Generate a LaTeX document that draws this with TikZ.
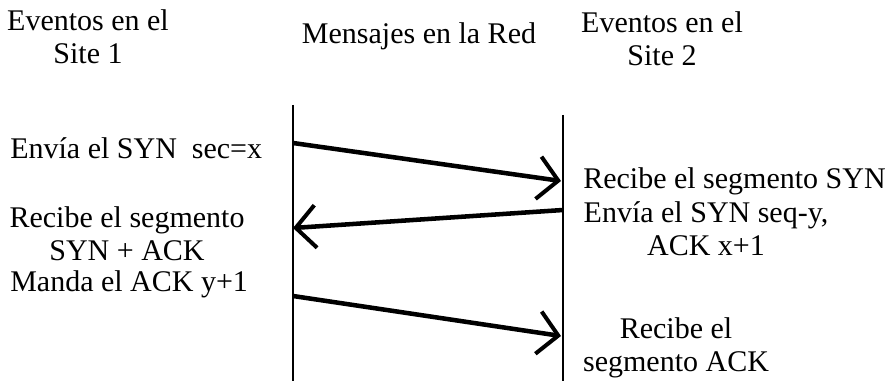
\documentclass[tikz,border=0pt]{standalone}
\usepackage{fontspec}
\setmainfont{Liberation Serif}
\usepackage{tikz}
\usetikzlibrary{arrows.meta}

\tikzset{
  txt/.style = {inner sep=0pt, font=\fontsize{22.5}{25}\selectfont},
  timeline/.style = {line width=2.2pt},
  msg/.style = {line width=3.4pt, -{Straight Barb[length=15pt, width=32pt, line width=3pt]}}
}

\begin{document}
\begin{tikzpicture}[x=0.75pt, y=-0.75pt]
        \useasboundingbox (0,0) rectangle (888,381);

         % Headings
         \node[txt, align=center] (siteone) at (88,37) {Eventos en el\\Site 1};
         \node[txt] (red) at (419,36) {Mensajes en la Red};
         \node[txt, align=center] (sitetwo) at (662,39) {Eventos en el\\Site 2};

         % Time lines
         \coordinate (oneTop) at (293,105);
         \coordinate (oneBot) at (293,381);
         \coordinate (twoTop) at (563,115);
         \coordinate (twoBot) at (563,381);
         \draw[timeline] (oneTop) -- (oneBot);
         \draw[timeline] (twoTop) -- (twoBot);

         % Events on site 1
         \node[txt, anchor=west] (synsend) at (10,148) {Envía el SYN~ sec=x};
         \node[txt, align=center] (synackget) at (127,234) {Recibe el segmento\\SYN + ACK};
         \node[txt, anchor=west] (acksend) at (10,284) {Manda el ACK y+1};

         % Events on site 2
         \node[txt, anchor=west] (synget) at (583,181) {Recibe el segmento SYN};
         \node[txt, align=center] (synacksend) at (706,229) {Envía el SYN seq-y,\\ACK x+1};
         \node[txt, align=center] (ackget) at (676,348) {Recibe el\\segmento ACK};

         % Messages
         \coordinate (m1a) at (293,143);
         \coordinate (m1b) at (561,181);
         \coordinate (m2a) at (563,210);
         \coordinate (m2b) at (293,228);
         \coordinate (m3a) at (293,296);
         \coordinate (m3b) at (561,336);
         \draw[msg] (m1a) -- (m1b);
         \draw[msg] (m2a) -- (m2b);
         \draw[msg] (m3a) -- (m3b);
    \end{tikzpicture}
\end{document}
